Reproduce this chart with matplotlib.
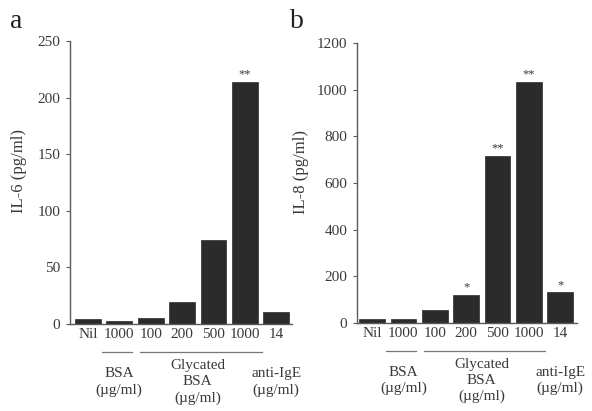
import matplotlib
matplotlib.use('Agg')
import matplotlib.pyplot as plt
from matplotlib.lines import Line2D

plt.rcParams['font.family'] = ['Liberation Serif', 'DejaVu Serif']

# data
tick_labels = ['Nil', '1000', '100', '200', '500', '1000', '14']
il6 = [4, 3, 5, 19, 74, 214, 11]
il8 = [15, 14, 55, 120, 717, 1033, 130]
il6_sig = ['', '', '', '', '', '**', '']
il8_sig = ['', '', '', '*', '**', '**', '*']
groups = [('BSA\n(µg/ml)', 1), ('Glycated\nBSA\n(µg/ml)', 3.5), ('anti-IgE\n(µg/ml)', 6)]
underlines = [(0.46, 1.41), (1.67, 5.53)]

bar_color = '#2b2b2b'
text_color = '#3a3a3a'
spine_color = '#5a5a5a'

fig = plt.figure(figsize=(5.92, 4.11), dpi=100)
W, H = 592, 411


def panel(rect, values, sig, ylim, yticks, ylabel, xlim, label_x):
    ax = fig.add_axes(rect)
    x = list(range(len(values)))
    ax.bar(x, values, width=0.82, color=bar_color, edgecolor=bar_color, linewidth=0.5)
    ax.set_xlim(*xlim)
    ax.set_ylim(*ylim)
    ax.set_yticks(yticks)
    ax.set_yticklabels([str(t) for t in yticks], fontsize=11, color=text_color)
    ax.set_xticks(x)
    ax.set_xticklabels(tick_labels, fontsize=11, color=text_color)
    ax.tick_params(axis='x', length=0, pad=3)
    ax.tick_params(axis='y', length=3, width=0.8, color=spine_color, pad=4)
    for s in ['top', 'right']:
        ax.spines[s].set_visible(False)
    for s in ['left', 'bottom']:
        ax.spines[s].set_color(spine_color)
        ax.spines[s].set_linewidth(1.0)
    ax.set_ylabel(ylabel, fontsize=12, color=text_color)
    ax.yaxis.set_label_coords(label_x, 0.54)

    # significance marks
    for xi, v, s in zip(x, values, sig):
        if s:
            ax.annotate(s, (xi, v), xytext=(0, 1), textcoords='offset points',
                        ha='center', va='bottom', fontsize=9, color=text_color)

    # group underlines and labels
    tr = ax.get_xaxis_transform()
    ax_h = rect[3] * H
    uy = -28 / ax_h
    for x0, x1 in underlines:
        ax.add_line(Line2D([x0, x1], [uy, uy], transform=tr, color='#777777',
                           linewidth=0.9, clip_on=False))
    for txt, gx in groups:
        ax.text(gx, -58 / ax_h, txt, transform=tr, ha='center', va='center',
                fontsize=11, color=text_color, linespacing=1.28)
    return ax


panel([70 / W, 1 - 324 / H, 222 / W, 283 / H], il6, il6_sig,
      (0, 250), [0, 50, 100, 150, 200, 250], 'IL-6 (pg/ml)', (-0.57, 6.5), -0.194)
panel([357 / W, 1 - 322.7 / H, 220 / W, 279.4 / H], il8, il8_sig,
      (0, 1200), [0, 200, 400, 600, 800, 1000, 1200], 'IL-8 (pg/ml)', (-0.48, 6.54), -0.218)

fig.text(10 / W, 1 - 28 / H, 'a', fontsize=20, ha='left', va='baseline', color='#222222')
fig.text(290 / W, 1 - 28 / H, 'b', fontsize=20, ha='left', va='baseline', color='#222222')

fig.savefig('out.png', dpi=100)
